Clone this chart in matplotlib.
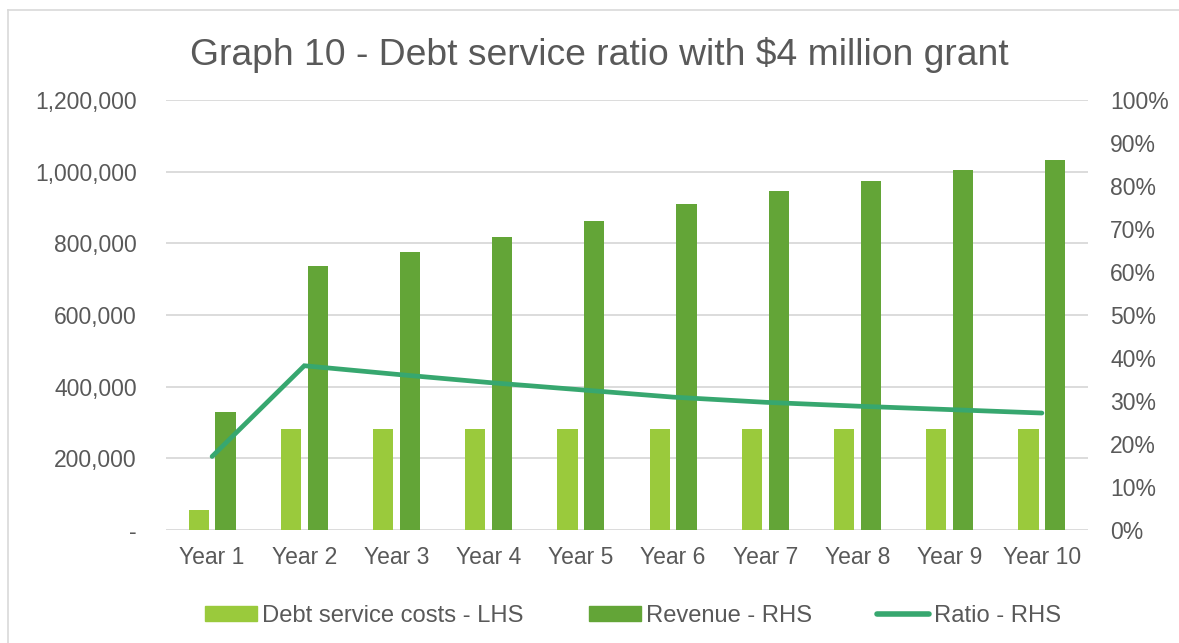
import matplotlib
matplotlib.use("Agg")
import matplotlib.pyplot as plt
from matplotlib.lines import Line2D
from matplotlib.ticker import FuncFormatter, MultipleLocator
import numpy as np

plt.rcParams["font.family"] = ["Liberation Sans", "DejaVu Sans"]

years = ["Year 1", "Year 2", "Year 3", "Year 4", "Year 5",
         "Year 6", "Year 7", "Year 8", "Year 9", "Year 10"]
debt_service = [56000, 281000, 281000, 281000, 281000,
                281000, 281000, 281000, 281000, 281000]
revenue = [328000, 737000, 777000, 818000, 861000,
           910000, 947000, 975000, 1004000, 1032000]
ratio = [0.171, 0.382, 0.362, 0.343, 0.326,
         0.309, 0.297, 0.288, 0.280, 0.272]

title = "Graph 10 - Debt service ratio with $4 million grant"
label_debt = "Debt service costs - LHS"
label_rev = "Revenue - RHS"
label_ratio = "Ratio - RHS"

c_debt = "#9aca3c"
c_rev = "#63a537"
c_ratio = "#37a76f"
c_text = "#595959"
c_grid = "#d9d9d9"

W, H = 1179, 643
fig = plt.figure(figsize=(W / 100, H / 100), dpi=100)
fig.patch.set_facecolor("white")

left, right, top, bottom = 166, 1088, 100, 530
ax = fig.add_axes([left / W, (H - bottom) / H, (right - left) / W, (bottom - top) / H])
ax2 = ax.twinx()

x = np.arange(len(years))
bw = 0.22
off = 0.145
ax.bar(x - off, debt_service, width=bw, color=c_debt, zorder=3, label=label_debt)
ax.bar(x + off, revenue, width=bw, color=c_rev, zorder=3, label=label_rev)
ax2.plot(x, ratio, color=c_ratio, lw=3.4, solid_capstyle="round",
         solid_joinstyle="miter", label=label_ratio)

ax.set_xlim(-0.5, len(years) - 0.5)
ax.set_ylim(0, 1200000)
ax2.set_ylim(0, 1.0)

ax.yaxis.set_major_locator(MultipleLocator(200000))
ax2.yaxis.set_major_locator(MultipleLocator(0.1))
ax.yaxis.set_major_formatter(FuncFormatter(lambda v, p: "-" if v == 0 else f"{v:,.0f}"))
ax2.yaxis.set_major_formatter(FuncFormatter(lambda v, p: f"{v * 100:.0f}%"))

ax.set_xticks(x)
ax.set_xticklabels(years)

fs = 16.5
ax.tick_params(axis="x", length=0, pad=11.5, labelsize=fs, labelcolor=c_text)
ax.tick_params(axis="y", length=0, pad=21, labelsize=fs, labelcolor=c_text)
ax2.tick_params(axis="y", length=0, pad=16, labelsize=fs, labelcolor=c_text)

ax.grid(axis="y", color=c_grid, lw=1.3, zorder=0)
ax.set_axisbelow(True)
for a in (ax, ax2):
    for s in a.spines.values():
        s.set_visible(False)

fig.text(599 / W, 1 - 65 / H, title, ha="center", va="baseline",
         fontsize=26.8, color=c_text)

handles = [
    plt.Rectangle((0, 0), 1, 1, color=c_debt),
    plt.Rectangle((0, 0), 1, 1, color=c_rev),
    Line2D([0], [0], color=c_ratio, lw=4, solid_capstyle="round"),
]
fig.legend(handles, [label_debt, label_rev, label_ratio], loc="center",
           bbox_to_anchor=(633 / W, 1 - 616 / H), ncol=3, frameon=False,
           fontsize=17.1, labelcolor=c_text, handlelength=2.2, handleheight=0.55,
           handletextpad=0.2, columnspacing=2.75, borderpad=0)

# chart area border
fig.add_artist(Line2D([8 / W, 1.0], [1 - 10 / H, 1 - 10 / H], color=c_grid, lw=1.2,
                      transform=fig.transFigure))
fig.add_artist(Line2D([8 / W, 8 / W], [0, 1 - 10 / H], color=c_grid, lw=1.2,
                      transform=fig.transFigure))

fig.savefig("out.png", dpi=100)
